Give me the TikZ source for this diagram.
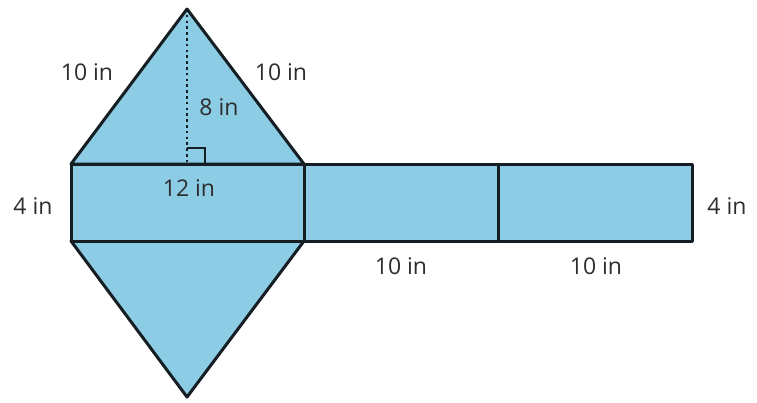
\documentclass[tikz,border=0pt]{standalone}
\usepackage{fontspec}
\setmainfont{Open Sans}
\definecolor{fillblue}{RGB}{140,204,228}
\definecolor{edge}{RGB}{20,30,35}
\definecolor{txt}{RGB}{45,45,45}
\begin{document}
\begin{tikzpicture}[x=1pt,y=-1pt,
  face/.style={fill=fillblue,draw=edge,line width=3pt,line join=round},
  lbl/.style={text=txt,font=\fontsize{23}{26}\selectfont,inner sep=0pt}]
\useasboundingbox (0,0) rectangle (757,402);
\coordinate (A) at (187,9);
\coordinate (B) at (187,397);
\coordinate (TL) at (71,164);
\coordinate (TR) at (304,164);
\coordinate (BL) at (71,241);
\coordinate (BR) at (304,241);
\coordinate (T2) at (498,164);
\coordinate (B2) at (498,241);
\coordinate (T3) at (692,164);
\coordinate (B3) at (692,241);
\coordinate (F) at (187,164);
\draw[face] (TL) -- (A) -- (TR) -- cycle;
\draw[face] (BL) -- (B) -- (BR) -- cycle;
\draw[face] (TL) rectangle (BR);
\draw[face] (TR) rectangle (B2);
\draw[face] (T2) rectangle (B3);
\draw[edge,line width=2.6pt,dash pattern=on 2.6pt off 3.2pt] (A) -- (F);
\draw[edge,line width=2pt] (187,148) -- (205,148) -- (205,164);
\node[lbl] (l1) at (87,72) {10 in};
\node[lbl] (l2) at (281,72) {10 in};
\node[lbl] (l3) at (219,107) {8 in};
\node[lbl] (l4) at (189,188) {12 in};
\node[lbl] (l5) at (33,206) {4 in};
\node[lbl] (l6) at (727,206) {4 in};
\node[lbl] (l7) at (401,266) {10 in};
\node[lbl] (l8) at (596,266) {10 in};
\end{tikzpicture}
\end{document}
